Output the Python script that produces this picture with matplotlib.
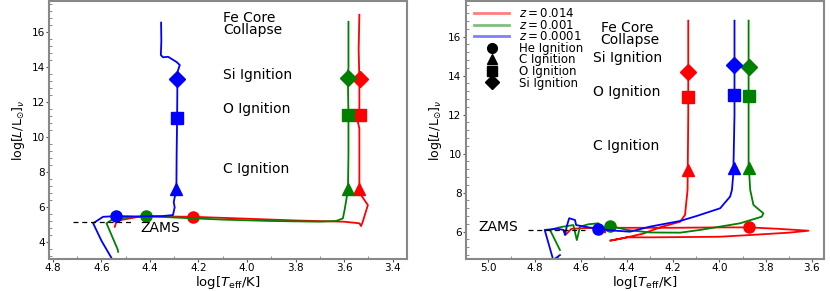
import matplotlib
matplotlib.use("Agg")
import matplotlib.pyplot as plt
from matplotlib.lines import Line2D
from matplotlib.ticker import AutoMinorLocator, MultipleLocator

# colours / labels for the three metallicities
colors = ["red", "green", "blue"]
z_labels = ["$z=0.014$", "$z=0.001$", "$z=0.0001$"]
stage_markers = ["o", "^", "s", "D"]
stage_names = ["He Ignition", "C Ignition", "O Ignition", "Si Ignition"]

# ---- left panel tracks (logTeff, logL) ----
left_red_T = [4.545, 4.54, 4.53, 4.45, 4.35, 4.223, 4.0, 3.8, 3.6, 3.537, 3.53, 3.523,
              3.502, 3.53, 3.537, 3.537, 3.545, 3.537, 3.537, 3.54, 3.537]
left_red_L = [4.89, 5.1, 5.25, 5.45, 5.48, 5.46, 5.35, 5.25, 5.18, 5.09, 4.93, 5.18,
              6.13, 6.70, 7.0, 10.5, 11.0, 11.3, 13.35, 15.0, 17.0]

left_green_T = [4.531, 4.533, 4.579, 4.55, 4.417, 4.30, 4.10, 3.90, 3.70, 3.633, 3.605,
                3.598, 3.591, 3.584, 3.582, 3.582, 3.585, 3.582, 3.582]
left_green_L = [3.46, 3.6, 5.09, 5.35, 5.5, 5.42, 5.3, 5.22, 5.18, 5.22, 5.37,
                5.85, 6.42, 7.03, 9.0, 11.3, 13.8, 13.9, 16.6]

left_blue_T = [4.578, 4.578, 4.556, 4.60, 4.634, 4.593, 4.538, 4.45, 4.35, 4.305, 4.298,
               4.302, 4.296, 4.291, 4.290, 4.288, 4.287, 4.288, 4.286, 4.277, 4.29, 4.325,
               4.346, 4.355, 4.353, 4.354]
left_blue_L = [2.4, 3.0, 3.05, 4.1, 5.09, 5.46, 5.50, 5.48, 5.5, 5.56, 6.0,
               6.3, 6.7, 6.99, 9.0, 11.1, 12.9, 13.3, 13.75, 14.13, 14.3, 14.6,
               14.57, 14.7, 15.5, 16.55]

# burning stage points: He, C, O, Si
left_red_stage_T = [4.223, 3.537, 3.535, 3.535]
left_red_stage_L = [5.45, 7.05, 11.3, 13.35]
left_green_stage_T = [4.417, 3.584, 3.585, 3.585]
left_green_stage_L = [5.5, 7.05, 11.3, 13.37]
left_blue_stage_T = [4.538, 4.291, 4.288, 4.287]
left_blue_stage_L = [5.50, 7.05, 11.09, 13.31]

# ---- right panel tracks ----
right_red_T = [4.665, 4.64, 4.55, 4.50, 4.495, 4.49, 4.40, 4.2, 4.0, 3.874, 3.75, 3.615,
               3.70, 3.867, 4.0, 4.30, 4.40, 4.473, 4.42, 4.33, 4.25, 4.17, 4.149, 4.138,
               4.135, 4.135]
right_red_L = [5.85, 6.15, 6.2, 6.2, 5.95, 6.2, 6.2, 6.2, 6.22, 6.22, 6.15, 6.05,
               5.95, 5.83, 5.74, 5.71, 5.71, 5.54, 5.66, 5.9, 6.25, 6.51, 6.86, 8.14,
               12.0, 16.82]

right_green_T = [4.69, 4.733, 4.70, 4.675, 4.632, 4.617, 4.603, 4.567, 4.524, 4.51, 4.473,
                 4.40, 4.30, 4.17, 4.084, 3.911, 3.817, 3.81, 3.853, 3.867, 3.874, 3.874]
right_green_L = [5.06, 6.09, 6.2, 6.26, 6.34, 5.57, 6.26, 6.38, 6.43, 6.18, 6.3,
                 6.09, 5.96, 5.95, 6.09, 6.43, 6.77, 6.94, 7.37, 8.14, 9.5, 16.82]

right_blue_T = [4.69, 4.719, 4.756, 4.70, 4.675, 4.668, 4.66, 4.65, 4.625, 4.62, 4.58,
                4.524, 4.45, 4.387, 4.30, 4.17, 4.1, 3.997, 3.954, 3.946, 3.94, 3.935, 3.935]
right_blue_L = [4.8, 4.55, 6.09, 6.15, 6.09, 5.83, 6.3, 6.69, 6.6, 6.34, 6.25,
                6.14, 6.05, 6.0, 6.26, 6.55, 6.8, 7.2, 7.8, 8.14, 9.0, 12.0, 16.82]

right_red_stage_T = [3.874, 4.135, 4.135, 4.135]
right_red_stage_L = [6.22, 9.16, 12.92, 14.2]
right_green_stage_T = [4.473, 3.874, 3.874, 3.874]
right_green_stage_L = [6.29, 9.25, 12.96, 14.46]
right_blue_stage_T = [4.524, 3.935, 3.935, 3.935]
right_blue_stage_L = [6.14, 9.25, 13.0, 14.55]

fig = plt.figure(figsize=(8.3, 2.91), dpi=100)
ax1 = fig.add_axes([0.059, 0.11, 0.431, 0.888])
ax2 = fig.add_axes([0.561, 0.11, 0.432, 0.888])

FS = 10


def draw_panel(ax, tracks, stages):
    for (T, L), (sT, sL), c in zip(tracks, stages, colors):
        ax.plot(T, L, color=c, lw=1.3)
        for t, l, m in zip(sT, sL, stage_markers):
            ax.plot(t, l, marker=m, color=c, ms=8, ls="none")


def style(ax):
    for s in ax.spines.values():
        s.set_color("#888888")
        s.set_linewidth(1.5)
    ax.yaxis.set_minor_locator(AutoMinorLocator(5))
    ax.xaxis.set_minor_locator(AutoMinorLocator(2))
    ax.tick_params(which="major", direction="out", length=2.5, width=0.8, pad=0.5,
                   colors="#555555", labelcolor="black", labelsize=7.5)
    ax.tick_params(which="minor", direction="in", length=2.5, width=0.6, colors="#777777")
    ax.set_xlabel(r"$\log[T_{\rm eff}/{\rm K}]$", fontsize=9.5, va="bottom")
    ax.xaxis.set_label_coords(0.5, -0.122)
    ax.set_ylabel(r"$\log[L/{\rm L}_{\odot}]_\nu$", fontsize=9, labelpad=3)


draw_panel(ax1,
           [(left_red_T, left_red_L), (left_green_T, left_green_L), (left_blue_T, left_blue_L)],
           [(left_red_stage_T, left_red_stage_L), (left_green_stage_T, left_green_stage_L),
            (left_blue_stage_T, left_blue_stage_L)])
ax1.plot([4.716, 4.47], [5.14, 5.14], color="black", ls="--", lw=0.9, dashes=(4, 3))
ax1.text(4.44, 4.83, "ZAMS", fontsize=FS, va="center")
ax1.text(4.099, 16.47, "Fe Core\nCollapse", fontsize=FS, va="center", linespacing=0.85)
ax1.text(4.099, 13.58, "Si Ignition", fontsize=FS, va="center")
ax1.text(4.099, 11.6, "O Ignition", fontsize=FS, va="center")
ax1.text(4.099, 8.19, "C Ignition", fontsize=FS, va="center")
ax1.set_xlim(4.816, 3.342)
ax1.set_ylim(3.05, 17.81)
ax1.xaxis.set_major_locator(MultipleLocator(0.2))
ax1.yaxis.set_major_locator(MultipleLocator(2))
style(ax1)

draw_panel(ax2,
           [(right_red_T, right_red_L), (right_green_T, right_green_L), (right_blue_T, right_blue_L)],
           [(right_red_stage_T, right_red_stage_L), (right_green_stage_T, right_green_stage_L),
            (right_blue_stage_T, right_blue_stage_L)])
ax2.plot([4.83, 4.58], [6.08, 6.08], color="black", ls="--", lw=0.9, dashes=(4, 3))
ax2.text(5.045, 6.25, "ZAMS", fontsize=FS, va="center")
ax2.text(4.514, 16.14, "Fe Core\nCollapse", fontsize=FS, va="center", linespacing=0.85)
ax2.text(4.545, 14.89, "Si Ignition", fontsize=FS, va="center")
ax2.text(4.545, 13.18, "O Ignition", fontsize=FS, va="center")
ax2.text(4.545, 10.41, "C Ignition", fontsize=FS, va="center")
ax2.set_xlim(5.098, 3.547)
ax2.set_ylim(4.6, 17.85)
ax2.xaxis.set_major_locator(MultipleLocator(0.2))
ax2.yaxis.set_major_locator(MultipleLocator(2))
style(ax2)

handles = [Line2D([], [], color=c, lw=2, alpha=0.5) for c in colors]
handles += [Line2D([], [], color="black", marker=m, ls="none", ms=7) for m in stage_markers]
ax2.legend(handles, z_labels + stage_names, loc="upper left", frameon=False, fontsize=8.5,
           labelspacing=-0.12, handlelength=3.0, handletextpad=0.8, borderaxespad=0.15,
           bbox_to_anchor=(0.005, 1.0))

fig.savefig("out.png", dpi=100)
